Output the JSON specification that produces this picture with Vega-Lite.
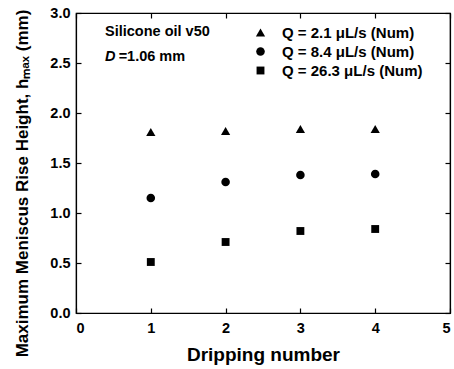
{
  "$schema": "https://vega.github.io/schema/vega-lite/v6.json",
  "autosize": {"type": "none"},
  "padding": {"left": 76, "top": 13, "right": 4, "bottom": 56},
  "width": 374,
  "height": 300,
  "background": "white",
  "config": {
    "font": "Liberation Sans",
    "view": {"stroke": "black", "strokeWidth": 1.2},
    "axis": {
      "domainColor": "black", "tickColor": "black", "grid": false,
      "labelColor": "black", "titleColor": "black",
      "labelFont": "Liberation Sans", "titleFont": "Liberation Sans",
      "labelFontWeight": "bold", "titleFontWeight": "bold",
      "labelFontSize": 14.5, "titleFontSize": 17,
      "tickSize": -5, "tickWidth": 1.2, "domainWidth": 1.2
    }
  },
  "data": {"values": [
    {"n": 1, "h": 1.81, "series": "Q = 2.1 μL/s (Num)"},
    {"n": 2, "h": 1.82, "series": "Q = 2.1 μL/s (Num)"},
    {"n": 3, "h": 1.84, "series": "Q = 2.1 μL/s (Num)"},
    {"n": 4, "h": 1.84, "series": "Q = 2.1 μL/s (Num)"},
    {"n": 1, "h": 1.15, "series": "Q = 8.4 μL/s (Num)"},
    {"n": 2, "h": 1.31, "series": "Q = 8.4 μL/s (Num)"},
    {"n": 3, "h": 1.38, "series": "Q = 8.4 μL/s (Num)"},
    {"n": 4, "h": 1.39, "series": "Q = 8.4 μL/s (Num)"},
    {"n": 1, "h": 0.51, "series": "Q = 26.3 μL/s (Num)"},
    {"n": 2, "h": 0.71, "series": "Q = 26.3 μL/s (Num)"},
    {"n": 3, "h": 0.82, "series": "Q = 26.3 μL/s (Num)"},
    {"n": 4, "h": 0.84, "series": "Q = 26.3 μL/s (Num)"}
  ]},
  "layer": [
    {
      "mark": {"type": "point", "filled": true, "opacity": 1, "color": "black"},
      "encoding": {
        "x": {"field": "n", "type": "quantitative", "scale": {"domain": [0, 5], "nice": false},
              "axis": {"orient": "bottom", "values": [0,1,2,3,4,5], "title": "Dripping number", "titleFontSize": 19, "labelPadding": 13, "titlePadding": 11}},
        "y": {"field": "h", "type": "quantitative", "scale": {"domain": [0, 3], "nice": false},
              "axis": {"orient": "left", "values": [0,0.5,1,1.5,2,2.5,3], "format": ".1f", "title": "Maximum Meniscus Rise Height, hₘₐₓ (mm)", "labelPadding": 11, "titlePadding": 18, "titleY": 170}},
        "shape": {"field": "series", "type": "nominal",
                  "scale": {"domain": ["Q = 2.1 μL/s (Num)", "Q = 8.4 μL/s (Num)", "Q = 26.3 μL/s (Num)"], "range": ["triangle-up", "circle", "square"]},
                  "legend": {"orient": "none", "legendX": 177, "legendY": 12, "title": null, "padding": 0,
                             "labelFont": "Liberation Sans", "labelFontSize": 15, "labelFontWeight": "bold", "labelColor": "black",
                             "symbolFillColor": "black", "symbolStrokeColor": "black", "symbolStrokeWidth": 0,
                             "labelOffset": 14, "rowPadding": 3, "symbolOffset": 0}},
        "size": {"field": "series", "type": "nominal",
                 "scale": {"domain": ["Q = 2.1 μL/s (Num)", "Q = 8.4 μL/s (Num)", "Q = 26.3 μL/s (Num)"], "range": [85, 62, 55]},
                 "legend": {"orient": "none", "legendX": 177, "legendY": 12, "title": null, "padding": 0,
                             "labelFont": "Liberation Sans", "labelFontSize": 15, "labelFontWeight": "bold", "labelColor": "black",
                             "symbolFillColor": "black", "symbolStrokeColor": "black", "symbolStrokeWidth": 0,
                             "labelOffset": 14, "rowPadding": 3, "symbolOffset": 0}}
      }
    },
    {
      "mark": {"type": "point", "opacity": 0},
      "encoding": {
        "x": {"field": "n", "type": "quantitative", "axis": {"orient": "top", "values": [0,1,2,3,4,5], "labels": false, "title": null}},
        "y": {"field": "h", "type": "quantitative", "axis": {"orient": "right", "values": [0,0.5,1,1.5,2,2.5,3], "labels": false, "title": null}}
      }
    },
    {
      "data": {"values": [{"t": "Silicone oil v50"}]},
      "mark": {"type": "text", "align": "left", "baseline": "middle", "font": "Liberation Sans", "fontWeight": "bold", "fontSize": 14.5, "color": "black"},
      "encoding": {"text": {"field": "t"}, "x": {"datum": 0.388, "axis": null}, "y": {"datum": 2.81, "axis": null}}
    },
    {
      "data": {"values": [{"t": "D"}]},
      "mark": {"type": "text", "align": "left", "baseline": "middle", "font": "Liberation Sans", "fontWeight": "bold", "fontStyle": "italic", "fontSize": 14.5, "color": "black"},
      "encoding": {"text": {"field": "t"}, "x": {"datum": 0.388, "axis": null}, "y": {"datum": 2.56, "axis": null}}
    },
    {
      "data": {"values": [{"t": "=1.06 mm"}]},
      "mark": {"type": "text", "align": "left", "baseline": "middle", "font": "Liberation Sans", "fontWeight": "bold", "fontSize": 14.5, "color": "black"},
      "encoding": {"text": {"field": "t"}, "x": {"datum": 0.57, "axis": null}, "y": {"datum": 2.56, "axis": null}}
    }
  ],
  "resolve": {"axis": {"x": "independent", "y": "independent"}}
}
